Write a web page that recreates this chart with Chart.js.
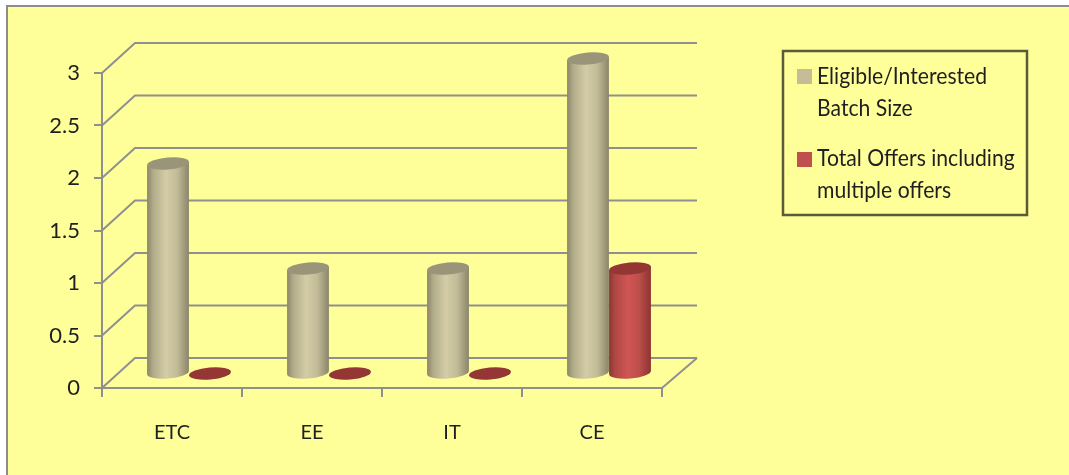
<!DOCTYPE html>
<html><head><meta charset="utf-8">
<style>html,body{margin:0;padding:0;background:#fff}#w{width:1069px;height:475px;position:relative}canvas{display:block}</style>
<script src="https://cdn.jsdelivr.net/npm/chart.js@4"></script>
</head><body><div id="w"><canvas id="c" width="1069" height="475"></canvas></div>
<script>
const categories = ['ETC','EE','IT','CE'];
const eligible = [2,1,1,3];
const offers = [0,0,0,1];
const eligibleLabel = ['Eligible/Interested','Batch Size'];
const offersLabel = ['Total Offers including','multiple offers'];
const tickLabels = {0:'0',0.5:'0.5',1:'1',1.5:'1.5',2:'2',2.5:'2.5',3:'3'};

const GRID='#8f8f8f', TXT='#1f1f1f', FONT='Lato';
const DX=33, DY=-30;      // depth of the floor/back wall
const BDX=17, BDY=-14.5;  // bars stand mid-way in the depth

function cyl(ctx,cx,top,base,w,pal){
  const rx=w/2, ry=6, rot=-5*Math.PI/180;
  const ox=rx*Math.cos(rot), oy=rx*Math.sin(rot);
  const g=ctx.createLinearGradient(cx-rx,0,cx+rx,0);
  g.addColorStop(0,pal[0]);g.addColorStop(.15,pal[1]);g.addColorStop(.45,pal[2]);g.addColorStop(.72,pal[4]);g.addColorStop(1,pal[0]);
  if(base-top>0.5){
    ctx.beginPath();
    ctx.moveTo(cx-ox,top-oy);
    ctx.lineTo(cx-ox,base-oy);
    ctx.ellipse(cx,base,rx,ry,rot,Math.PI,0,true);
    ctx.lineTo(cx+ox,top+oy);
    ctx.closePath();
    ctx.fillStyle=g;ctx.fill();
  }
  ctx.beginPath();ctx.ellipse(cx,top,rx,ry,rot,0,Math.PI*2);ctx.fillStyle=pal[3];ctx.fill();
}
const palettes=[['#8a8568','#b2ac8a','#d3cca6','#9a9578','#c2bb98'],['#8c3432','#b04845','#cf5653','#943634','#bd4e4b']];

const scene={
  id:'scene',
  beforeDraw(ch){
    const c=ch.ctx;c.save();
    c.fillStyle='#fff';c.fillRect(0,0,1069,475);
    c.fillStyle='#FFFF99';c.fillRect(7,6,1062,469);
    c.fillStyle='#8c8c8c';c.fillRect(6,5,1063,2);c.fillRect(6,5,2,470);
    c.restore();
  },
  beforeDatasetsDraw(ch){
    const c=ch.ctx,y=ch.scales.y,a=ch.chartArea;c.save();
    c.strokeStyle=GRID;c.lineWidth=2;c.lineJoin='miter';
    y.ticks.forEach(t=>{
      const py=y.getPixelForValue(t.value);
      c.beginPath();c.moveTo(a.left,py);c.lineTo(a.left+DX,py+DY);c.lineTo(a.right+DX+2,py+DY);c.stroke();
    });
    c.beginPath();c.moveTo(a.right+DX+2,y.bottom+DY);c.lineTo(a.right,y.bottom);c.stroke();
    c.restore();
  },
  beforeDatasetDraw(){return false;},
  afterDatasetsDraw(ch){
    const c=ch.ctx;c.save();
    ch.data.labels.forEach((_,i)=>{
      ch.data.datasets.forEach((d,k)=>{
        const b=ch.getDatasetMeta(k).data[i];
        cyl(c,b.x+BDX,b.y+BDY,b.base+BDY,b.width,palettes[k]);
      });
    });
    c.restore();
  },
  afterDraw(ch){
    const c=ch.ctx;c.save();
    c.strokeStyle='#5b5b3a';c.lineWidth=2.5;c.strokeRect(783,51,244,164);
    c.textBaseline='middle';c.textAlign='left';
    const rows=[[eligibleLabel,69,[77,109]],[offersLabel,152,[159,191]]];
    rows.forEach((r,k)=>{
      c.fillStyle=ch.data.datasets[k].backgroundColor;c.fillRect(797,r[1],15,15);
      c.fillStyle=TXT;c.font='23px '+FONT;
      r[0].forEach((s,j)=>{
        c.save();c.translate(817,r[2][j]);c.scale(.92,1);c.fillText(s,0,0);c.restore();
      });
    });
    c.restore();
  }
};

new Chart(document.getElementById('c'),{
  type:'bar',
  data:{labels:categories,datasets:[
    {label:eligibleLabel.join(' '),data:eligible,backgroundColor:'#C4BD97',barPercentage:1,categoryPercentage:.6},
    {label:offersLabel.join(' '),data:offers,backgroundColor:'#C0504D',barPercentage:1,categoryPercentage:.6}
  ]},
  options:{
    responsive:false,animation:false,
    layout:{padding:{left:0,right:407,top:73,bottom:0}},
    plugins:{legend:{display:false},tooltip:{enabled:false}},
    scales:{
      x:{grid:{drawOnChartArea:false,color:GRID,lineWidth:2,tickLength:9,offset:true},border:{color:GRID,width:2},
         ticks:{color:TXT,font:{family:FONT,size:20},padding:24,maxRotation:0},
         afterFit(s){s.height=87;}},
      y:{min:0,max:3,grid:{drawOnChartArea:false,color:GRID,lineWidth:2,tickLength:8},border:{color:GRID,width:2},
         ticks:{stepSize:.5,color:TXT,font:{family:FONT,size:22},padding:14,callback:v=>tickLabels[v]},
         afterFit(s){s.width=102;}}
    }
  },
  plugins:[scene]
});
</script></body></html>
